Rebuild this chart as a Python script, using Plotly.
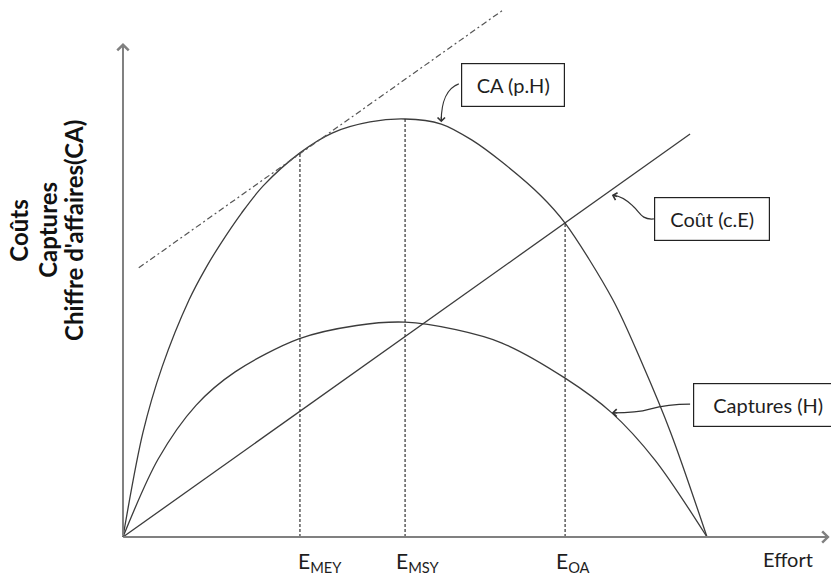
import plotly.graph_objects as go

# ---------------- data (effort 0..100, value 0..100) -------------
ca_effort = [0, 3.4, 6.7, 11.3, 14.2, 16.6, 20.3, 24.0, 30.3, 35.9, 42.3, 48.3, 54.5, 59.7, 64.9, 71.6, 75.7, 83.9, 88.9, 93.8, 100]
ca_value = [0, 24.9, 40.7, 56.7, 64.4, 69.9, 77.5, 84.0, 91.9, 96.7, 99.3, 100, 98.8, 95.0, 89.7, 81.6, 75.1, 56.7, 41.5, 24.9, 0]

captures_effort = [0, 6.0, 12.5, 19.2, 30.1, 40.0, 48.3, 57.0, 64.9, 75.7, 83.7, 91.1, 100]
captures_value = [0, 18.6, 31.5, 39.5, 47.4, 50.6, 51.4, 49.6, 46.4, 38.0, 29.7, 18.4, 0]

cost_effort = [0, 97.1]
cost_value = [0, 96.4]

tangent_effort = [2.7, 65.1]
tangent_value = [64.4, 126.1]

ref_names = ["E<sub>MEY</sub>", "E<sub>MSY</sub>", "E<sub>OA</sub>"]
ref_effort = [30.3, 48.3, 75.7]
ref_top = [91.9, 100, 75.1]

ytitle_lines = ["Coûts", "Captures", "Chiffre d'affaires(CA)"]

# ---------------- styles ----------------
CURVE = "#3c3c3c"
AXIS = "#808080"
TXT = "#1e1e1e"
FONT = "Lato"

fig = go.Figure()

fig.add_trace(go.Scatter(x=ca_effort, y=ca_value, mode="lines",
                         line=dict(color=CURVE, width=1.3, shape="spline", smoothing=0.9),
                         hoverinfo="skip", showlegend=False))
fig.add_trace(go.Scatter(x=captures_effort, y=captures_value, mode="lines",
                         line=dict(color=CURVE, width=1.3, shape="spline", smoothing=0.9),
                         hoverinfo="skip", showlegend=False))
fig.add_trace(go.Scatter(x=cost_effort, y=cost_value, mode="lines",
                         line=dict(color=CURVE, width=1.3),
                         hoverinfo="skip", showlegend=False))
fig.add_trace(go.Scatter(x=tangent_effort, y=tangent_value, mode="lines",
                         line=dict(color="#555555", width=1.2, dash="6px,3px,2px,3px"),
                         hoverinfo="skip", showlegend=False))
for e, top in zip(ref_effort, ref_top):
    fig.add_trace(go.Scatter(x=[e, e], y=[0, top], mode="lines",
                             line=dict(color="#333333", width=1.2, dash="3px,2px"),
                             hoverinfo="skip", showlegend=False))

annotations = []
# axes with arrows
annotations.append(dict(x=0, y=118.2, ax=0, ay=0, axref="x", ayref="y", xref="x", yref="y",
                        showarrow=True, arrowhead=4, arrowsize=1.1, arrowwidth=2,
                        arrowcolor=AXIS, text="", standoff=0))
annotations.append(dict(x=121.0, y=0, ax=-0.2, ay=0, axref="x", ayref="y", xref="x", yref="y",
                        showarrow=True, arrowhead=4, arrowsize=1.1, arrowwidth=2,
                        arrowcolor=AXIS, text="", standoff=0))

# y title (three rotated lines)
for xpos, line in zip([-17.9, -12.9, -8.6], ytitle_lines):
    annotations.append(dict(x=xpos, y=73.4, xref="x", yref="y", text="<b>%s</b>" % line,
                            textangle=-90, showarrow=False,
                            font=dict(family=FONT, size=24, color="#111111")))

# reference effort labels
for name, xpos in zip(ref_names, [33.7, 50.5, 77.1]):
    annotations.append(dict(x=xpos, y=-6.0, xref="x", yref="y", text=name, showarrow=False,
                            font=dict(family=FONT, size=21, color=TXT)))
annotations.append(dict(x=113.9, y=-5.3, xref="x", yref="y", text="Effort", showarrow=False,
                        font=dict(family=FONT, size=20, color=TXT)))

# boxed curve labels
boxes = [("CA (p.H)", 66.7, 108.1, 100, 40),
         ("Coût (c.E)", 100.9, 76.1, 112, 40),
         ("Captures (H)", 110.4, 31.6, 146, 40)]
for text, bx, by, w, h in boxes:
    annotations.append(dict(x=bx, y=by, xref="x", yref="y", text=text, showarrow=False,
                            width=w, height=h, borderpad=1, bordercolor="#222222",
                            borderwidth=1.2, bgcolor="white",
                            font=dict(family=FONT, size=20, color=TXT)))

# arrow heads at the end of curved leaders
for tx, ty, ax, ay in [(54.5, 99.2, 0, -7), (83.7, 81.8, 7, 2), (83.7, 29.7, 7, 0)]:
    annotations.append(dict(x=tx, y=ty, ax=ax, ay=ay, xref="x", yref="y", text="",
                            showarrow=True, arrowhead=4, arrowsize=1.2, arrowwidth=1.2,
                            arrowcolor="#333333", standoff=0))

shapes = [
    dict(type="path", xref="x", yref="y",
         path="M 57.5,108.4 C 55.5,107.4 54.5,104.1 54.5,99.6",
         line=dict(color="#333333", width=1.2)),
    dict(type="path", xref="x", yref="y",
         path="M 90.9,76.1 C 88.7,75.8 88.5,77.8 87.3,79.2 C 86.3,80.6 85.1,81.6 83.9,81.8",
         line=dict(color="#333333", width=1.2)),
    dict(type="path", xref="x", yref="y",
         path="M 97.1,31.8 C 93.7,31.8 92.0,31.3 90.2,30.6 C 88.5,29.9 86.0,29.7 83.9,29.7",
         line=dict(color="#333333", width=1.2)),
]

fig.update_layout(
    width=831, height=576, autosize=False,
    margin=dict(l=0, r=0, t=0, b=0),
    paper_bgcolor="white", plot_bgcolor="white",
    xaxis=dict(range=[-21.06, 121.23], visible=False, fixedrange=True),
    yaxis=dict(range=[-9.33, 128.47], visible=False, fixedrange=True),
    annotations=annotations, shapes=shapes, showlegend=False,
)

fig.write_html("out.html", config={"displayModeBar": False},
               post_script="document.body.style.margin='0';document.body.style.padding='0';")
